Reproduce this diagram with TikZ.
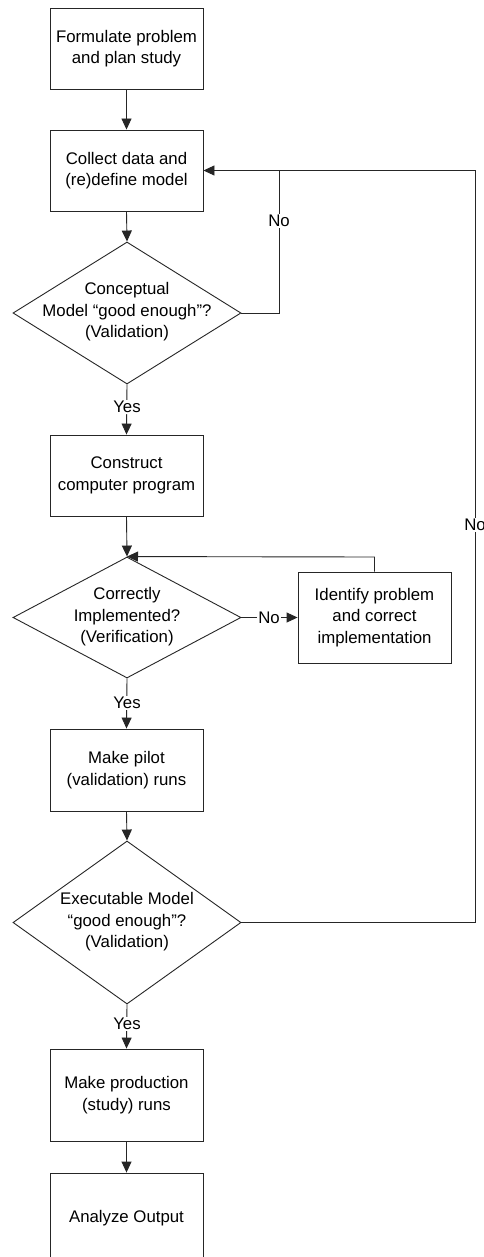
\documentclass[tikz,border=0pt]{standalone}
\usepackage{fontspec}
\setmainfont{Liberation Sans}
\usetikzlibrary{shapes.geometric,arrows.meta}
\begin{document}
\begin{tikzpicture}[x=1pt,y=-1pt,
  every node/.style={font=\fontsize{16.8}{21.5}\selectfont, text=black},
  box/.style={draw=black!85, line width=0.9pt, rectangle, minimum width=153pt, inner sep=0pt, align=center},
  dia/.style={draw=black!85, line width=0.9pt, diamond, inner sep=0pt, minimum width=228pt},
  txt/.style={align=center, inner sep=0pt},
  lab/.style={fill=white, inner sep=1.5pt},
  conn/.style={draw=black!85, line width=0.9pt},
  arr/.style={conn, -{Triangle[length=11pt,width=10pt]}}]
\useasboundingbox (0,0) rectangle (484,1257);
\clip (0,0) rectangle (484,1257);
\fill[white] (0,0) rectangle (484,1257);

\node[box, minimum height=81pt] (b1) at (126.5,48.5) {Formulate problem\\and plan study};
\node[box, minimum height=81pt] (b2) at (126.5,170.5) {Collect data and\\(re)define model};
\node[dia, minimum height=142pt] (d1) at (127,313) {};
\node[txt] (d1t) at (127,312) {Conceptual\\Model “good enough”?\\(Validation)};
\node[box, minimum height=81pt] (b3) at (126.5,475.5) {Construct\\computer program};
\node[dia, minimum height=121pt] (d2) at (127,617.5) {};
\node[txt] (d2t) at (127,617) {Correctly\\Implemented?\\(Verification)};
\node[box, minimum height=91pt] (b4) at (374.5,617.5) {Identify problem\\and correct\\implementation};
\node[box, minimum height=82pt] (b5) at (126.5,770) {Make pilot\\(validation) runs};
\node[dia, minimum height=163pt] (d3) at (127,922.5) {};
\node[txt] (d3t) at (127,922) {Executable Model\\“good enough”?\\(Validation)};
\node[box, minimum height=92pt] (b6) at (126.5,1095) {Make production\\(study) runs};
\node[box, minimum height=90pt] (b7) at (126.5,1218) {Analyze Output};

\coordinate (c1) at (279,313);
\coordinate (c2) at (279,170.5);
\coordinate (c3) at (475,922.5);
\coordinate (c4) at (475,170.5);
\coordinate (c5) at (374.5,557);

\draw[arr] (b1.south) -- (b2.north);
\draw[arr] (b2.south) -- (d1.north);
\draw[arr] (d1.east) -- (c1) -- (c2) -- (b2.east);
\node[lab] (no1) at (279,221) {No};
\draw[arr] (d1.south) -- (b3.north);
\node[lab] (yes1) at (127,407) {Yes};
\draw[arr] (b3.south) -- (d2.north);
\draw[arr] (b4.north) -- (c5) -- (d2.north);
\draw[arr] (d2.east) -- (b4.west);
\node[lab] (no2) at (269,617.5) {No};
\draw[arr] (d2.south) -- (b5.north);
\node[lab] (yes2) at (127,703) {Yes};
\draw[arr] (b5.south) -- (d3.north);
\draw[conn] (d3.east) -- (c3) -- (c4) -- (c2);
\node[lab] (no3) at (475,525) {No};
\draw[arr] (d3.south) -- (b6.north);
\node[lab] (yes3) at (127,1024) {Yes};
\draw[arr] (b6.south) -- (b7.north);
\end{tikzpicture}
\end{document}
